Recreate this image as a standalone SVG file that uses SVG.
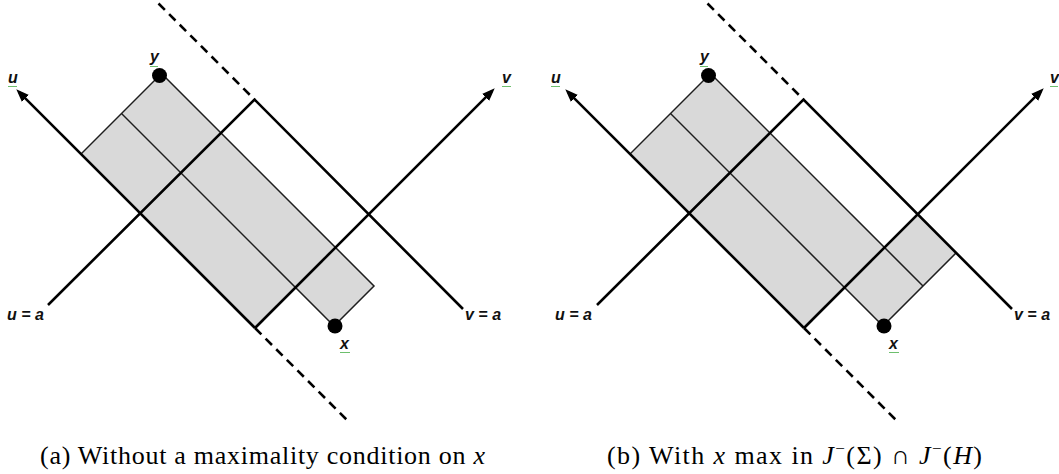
<svg xmlns="http://www.w3.org/2000/svg" width="1059" height="474" viewBox="0 0 1059 474">
<style>
.shade{fill:#d9d9d9;stroke:none}
.thin{fill:none;stroke:#1e1e1e;stroke-width:1.5}
.thick{fill:none;stroke:#000;stroke-width:2.6;stroke-linejoin:miter}
.dash{fill:none;stroke:#000;stroke-width:2.6;stroke-dasharray:9 6}
.dot{fill:#000}
.lbl{font-family:"Liberation Sans",Arial,sans-serif;font-weight:bold;font-style:italic;font-size:16px;fill:#111}
.sq{fill:none;stroke:#5cb85c;stroke-width:0.9}
.cap{font-family:"Liberation Serif","DejaVu Serif","Noto Serif","Times New Roman",serif;font-size:26px;fill:#000}
.it{font-style:italic}
</style>
<defs>
<marker id="arr" markerUnits="userSpaceOnUse" markerWidth="13" markerHeight="10" refX="9" refY="5" orient="auto">
<path d="M0,0 L13,5 L0,10 z" fill="#000"/>
</marker>
</defs>

<g id="panel-a">
<g id="region-a"><polygon class="shade" points="161.5,73.5 81,154 255,328 295.5,287.5 334,326 374,286"/></g>
<g id="connectors-a">
<path class="thin" d="M161.5,73.5 L81,154"/>
<path class="thin" d="M161.5,73.5 L374,286 L334,326"/>
<path class="thin" d="M121.5,113.5 L334,326"/>
<path class="thick" d="M255,328 L19.1,92.1" marker-end="url(#arr)"/>
<path class="thick" d="M255,328 L491.9,91.1" marker-end="url(#arr)"/>
<path class="thick" d="M48,305 L254.5,99.5 L463,309"/>
<path class="dash" d="M158.5,3.5 L254.5,99.5"/>
<path class="dash" d="M255,328 L349,422"/>
</g>
<g id="node-a-y"><circle class="dot" cx="159.5" cy="75.5" r="7.5"/><text class="lbl" x="150" y="62">y</text><path class="sq" d="M150,66 l1,1 l1,-1 l1,1 l1,-1 l1,1 l1,-1 l1,1 l1,-1"/></g>
<g id="node-a-x"><circle class="dot" cx="335" cy="326" r="7.5"/><text class="lbl" x="340" y="349">x</text><path class="sq" d="M340,352 l1,1 l1,-1 l1,1 l1,-1 l1,1 l1,-1 l1,1 l1,-1 l1,1 l1,-1"/></g>
<g id="label-a-u"><text class="lbl" x="8" y="83">u</text><path class="sq" d="M8,86 l1,1 l1,-1 l1,1 l1,-1 l1,1 l1,-1 l1,1 l1,-1 l1,1"/></g>
<g id="label-a-v"><text class="lbl" x="502" y="83">v</text><path class="sq" d="M502,86 l1,1 l1,-1 l1,1 l1,-1 l1,1 l1,-1 l1,1 l1,-1 l1,1"/></g>
<g id="label-a-ua"><text class="lbl" x="7" y="320">u = a</text></g>
<g id="label-a-va"><text class="lbl" x="465" y="320">v = a</text></g>
<text id="caption-a" class="cap" x="40" y="464" textLength="445" lengthAdjust="spacing">(a) Without a maximality condition on <tspan class="it">x</tspan></text>
</g>

<g id="panel-b">
<g id="region-b"><polygon class="shade" points="710.5,73.5 630,154 804,328 844.5,287.5 883,326 956.5,252.5 918,214 884.5,247.5"/></g>
<g id="connectors-b">
<path class="thin" d="M710.5,73.5 L630,154"/>
<path class="thin" d="M710.5,73.5 L923,286"/>
<path class="thin" d="M883,326 L956.5,252.5"/>
<path class="thin" d="M670.5,113.5 L883,326"/>
<path class="thick" d="M804,328 L568.1,92.1" marker-end="url(#arr)"/>
<path class="thick" d="M804,328 L1040.9,91.1" marker-end="url(#arr)"/>
<path class="thick" d="M597,305 L803.5,99.5 L1012,309"/>
<path class="dash" d="M707.5,3.5 L803.5,99.5"/>
<path class="dash" d="M804,328 L898,422"/>
</g>
<g id="node-b-y"><circle class="dot" cx="708.5" cy="75.5" r="7.5"/><text class="lbl" x="700" y="62">y</text><path class="sq" d="M700,66 l1,1 l1,-1 l1,1 l1,-1 l1,1 l1,-1 l1,1 l1,-1"/></g>
<g id="node-b-x"><circle class="dot" cx="884" cy="326" r="7.5"/><text class="lbl" x="889" y="349">x</text><path class="sq" d="M889,352 l1,1 l1,-1 l1,1 l1,-1 l1,1 l1,-1 l1,1 l1,-1 l1,1 l1,-1"/></g>
<g id="label-b-u"><text class="lbl" x="551" y="83">u</text><path class="sq" d="M551,86 l1,1 l1,-1 l1,1 l1,-1 l1,1 l1,-1 l1,1 l1,-1 l1,1"/></g>
<g id="label-b-v"><text class="lbl" x="1050" y="83">v</text><path class="sq" d="M1050,86 l1,1 l1,-1 l1,1 l1,-1 l1,1 l1,-1 l1,1 l1,-1"/></g>
<g id="label-b-ua"><text class="lbl" x="555" y="320">u = a</text></g>
<g id="label-b-va"><text class="lbl" x="1014" y="320">v = a</text></g>
<text id="caption-b" class="cap" x="607" y="464" textLength="375" lengthAdjust="spacing">(b) With <tspan class="it">x</tspan> max in <tspan class="it">J</tspan><tspan font-size="17" dy="-10">−</tspan><tspan dy="10">(Σ) ∩ </tspan><tspan class="it">J</tspan><tspan font-size="17" dy="-10">−</tspan><tspan dy="10">(</tspan><tspan class="it">H</tspan>)</text>
</g>
</svg>
